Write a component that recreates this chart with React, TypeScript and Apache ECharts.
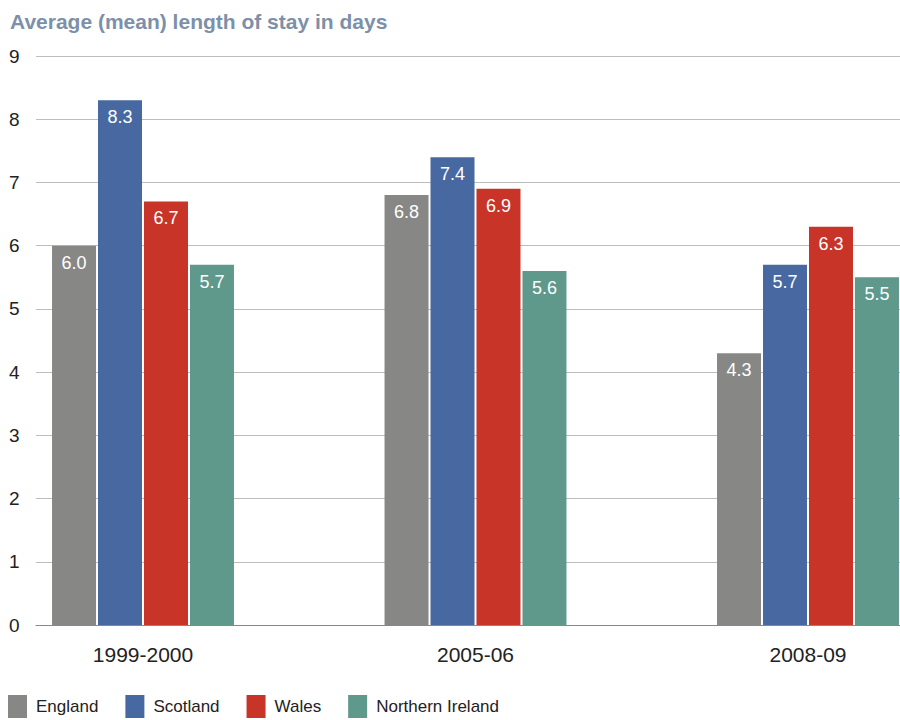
import React, { useEffect, useRef } from "react";
import * as echarts from "echarts";

const categories = ["1999-2000", "2005-06", "2008-09"];
const england = [6.0, 6.8, 4.3];
const scotland = [8.3, 7.4, 5.7];
const wales = [6.7, 6.9, 6.3];
const northernIreland = [5.7, 5.6, 5.5];
const seriesNames = ["England", "Scotland", "Wales", "Northern Ireland"];
const seriesColors = ["#878786", "#4768a1", "#c83428", "#5e998c"];
const yTicks = { min: 0, max: 9, interval: 1 };

const FONT = "'Liberation Sans', Arial, Helvetica, sans-serif";

export default function App() {
  const ref = useRef<HTMLDivElement>(null);

  useEffect(() => {
    document.body.style.margin = "0";
    if (!ref.current) return;
    const chart = echarts.init(ref.current, null, { renderer: "svg" });
    const values = [england, scotland, wales, northernIreland];

    chart.setOption({
      animation: false,
      title: {
        text: "Average (mean) length of stay in days",
        left: 10,
        top: 11,
        padding: 0,
        textStyle: { fontFamily: FONT, fontSize: 21, fontWeight: "bold", color: "#7d90a9" },
      },
      legend: {
        data: seriesNames,
        left: 8,
        top: 695,
        padding: 0,
        icon: "rect",
        itemWidth: 19,
        itemHeight: 23,
        itemGap: 27,
        textStyle: { fontFamily: FONT, fontSize: 17, color: "#222", padding: [0, 0, 0, 4] },
      },
      grid: [
        // full-width grid for the value axis, gridlines and baseline
        { left: 36, right: 0, top: 56, bottom: 95 },
        // grid carrying the grouped bars, centred on each period
        { left: 143, right: 92, top: 56, bottom: 95 },
      ],
      xAxis: [
        {
          gridIndex: 0,
          type: "value",
          min: 0,
          max: 1,
          axisLine: { show: true, onZero: false, lineStyle: { color: "#888", width: 1 } },
          axisTick: { show: false },
          axisLabel: { show: false },
          splitLine: { show: false },
        },
        {
          gridIndex: 1,
          type: "category",
          data: categories,
          boundaryGap: false,
          axisLine: { show: false },
          axisTick: { show: false },
          axisLabel: { fontFamily: FONT, fontSize: 21, color: "#222", margin: 19 },
          splitLine: { show: false },
        },
      ],
      yAxis: [
        {
          gridIndex: 0,
          type: "value",
          ...yTicks,
          axisLine: { show: false },
          axisTick: { show: false },
          axisLabel: { fontFamily: FONT, fontSize: 19, color: "#222", align: "left", margin: 27 },
          splitLine: { lineStyle: { color: "#bdbdbd", width: 1 } },
        },
        {
          gridIndex: 1,
          type: "value",
          ...yTicks,
          show: false,
          splitLine: { show: false },
        },
      ],
      series: seriesNames.map((name, i) => ({
        name,
        type: "bar",
        xAxisIndex: 1,
        yAxisIndex: 1,
        data: values[i],
        barWidth: 44,
        barGap: "4.5%",
        itemStyle: { color: seriesColors[i] },
        label: {
          show: true,
          position: "insideTop",
          distance: 8,
          color: "#fff",
          fontFamily: FONT,
          fontSize: 18,
          formatter: (p: any) => Number(p.value).toFixed(1),
        },
      })),
    });

    return () => chart.dispose();
  }, []);

  return <div ref={ref} style={{ width: 900, height: 720 }} />;
}
